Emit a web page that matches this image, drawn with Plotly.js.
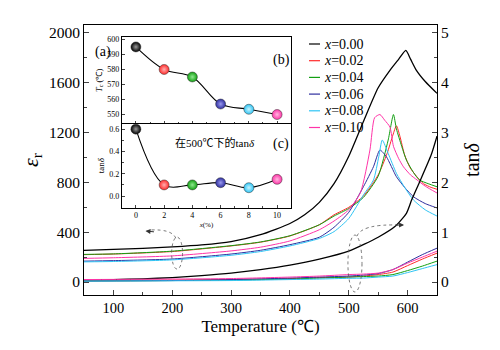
<!DOCTYPE html>
<html>
<head>
<meta charset="utf-8">
<script src="https://cdn.plot.ly/plotly-3.0.1.min.js"></script>
<style>html,body{margin:0;padding:0;background:#fff;}#chart{width:500px;height:350px;}</style>
</head>
<body>
<div id="chart"></div>
<script>
// ---- data ----
var seriesNames = ['<i>x</i>=0.00','<i>x</i>=0.02','<i>x</i>=0.04','<i>x</i>=0.06','<i>x</i>=0.08','<i>x</i>=0.10'];
var seriesColors = ['#000000','#ff2a2a','#12a012','#2e2e9e','#2ec4f4','#ff34a8'];

// permittivity (left axis)
var T0e = [50,100,150,200,250,300,350,400,425,450,475,500,525,550,570,585,597,605,615,630,650];
var e0  = [255,262,270,282,298,325,380,470,540,640,790,1010,1290,1560,1700,1790,1860,1790,1700,1610,1515];
var T1e = [50,100,200,300,350,400,450,475,500,525,550,565,575,581,587,595,604,615,627,640,650];
var e1  = [220,225,245,290,320,370,460,540,600,690,860,1030,1180,1255,1170,1020,920,850,790,760,745];
var T2e = [50,100,200,300,350,400,450,475,500,525,550,567,576,581,590,598,610,620,635,650];
var e2  = [222,226,248,292,322,372,460,530,590,680,850,1140,1345,1230,1090,980,880,820,790,765];
var T3e = [50,100,200,300,350,400,450,475,500,525,542,553,564,581,595,610,630,650];
var e3  = [168,172,185,225,255,300,360,440,560,766,926,1060,1006,846,760,685,630,595];
var T4e = [50,100,200,300,350,400,450,475,500,525,542,551,557,567,581,595,610,630,650];
var e4  = [162,165,178,215,245,290,350,405,510,700,819,1006,1140,1033,873,760,659,580,530];
var T5e = [50,100,200,300,350,400,450,475,500,520,536,544,553,561,570,576,585,593,605,616,630,650];
var e5  = [190,195,210,250,280,330,420,490,580,720,1060,1320,1345,1300,1245,1090,990,925,860,820,770,715];

// loss tangent (right axis)
var T0d = [50,100,150,200,250,300,350,400,450,500,550,580,598,607,620,640,650];
var d0  = [0.04,0.05,0.065,0.09,0.13,0.18,0.25,0.34,0.46,0.62,0.9,1.13,1.38,1.65,2.0,2.55,2.93];
var Tcd = [50,200,300,400,450,500,525,550,575,600,625,650];
var d1  = [0.03,0.04,0.05,0.07,0.09,0.10,0.12,0.15,0.20,0.33,0.46,0.58];
var d2  = [0.02,0.03,0.04,0.06,0.08,0.10,0.11,0.12,0.15,0.23,0.32,0.42];
var d3  = [0.02,0.03,0.05,0.08,0.10,0.12,0.14,0.17,0.25,0.40,0.55,0.68];
var d4  = [0.02,0.025,0.03,0.05,0.06,0.075,0.08,0.10,0.12,0.19,0.27,0.35];
var d5  = [0.05,0.06,0.07,0.10,0.12,0.15,0.16,0.18,0.25,0.38,0.50,0.62];

// insets
var xPct   = [0,2,4,6,8,10];
var TcVals = [595,580,575,557,553.5,550];
var tan500 = [0.6,0.1,0.1,0.12,0.075,0.15];
var sphereLight = ['#9a9a9a','#ffb0b0','#90e890','#9a9af0','#c8f4ff','#ffb8e0'];

var font = 'Liberation Serif';
var TeArr = [T0e,T1e,T2e,T3e,T4e,T5e];
var eArr = [e0,e1,e2,e3,e4,e5];
var TdArr = [T0d,Tcd,Tcd,Tcd,Tcd,Tcd];
var dArr = [d0,d1,d2,d3,d4,d5];

var traces = [];
for (var i=0;i<6;i++){
  traces.push({x:TeArr[i], y:eArr[i], type:'scatter', mode:'lines', name:seriesNames[i], showlegend:false,
    line:{color:seriesColors[i], width:i===0?1.3:1, shape:'spline', smoothing:0.6}, xaxis:'x', yaxis:'y'});
}
for (var j=0;j<6;j++){
  traces.push({x:TdArr[j], y:dArr[j], type:'scatter', mode:'lines', showlegend:false,
    line:{color:seriesColors[j], width:j===0?1.3:1, shape:'spline', smoothing:0.6}, xaxis:'x', yaxis:'y2'});
}
traces.push({x:xPct, y:TcVals, type:'scatter', mode:'lines+markers', showlegend:false, xaxis:'x3', yaxis:'y3',
  line:{color:'#000', width:1.1, shape:'spline'},
  marker:{size:10, color:seriesColors, gradient:{type:'radial', color:sphereLight}, line:{width:0.5,color:'#333'}}});
traces.push({x:xPct, y:tan500, type:'scatter', mode:'lines+markers', showlegend:false, xaxis:'x4', yaxis:'y4',
  line:{color:'#000', width:1.1, shape:'spline'},
  marker:{size:10, color:seriesColors, gradient:{type:'radial', color:sphereLight}, line:{width:0.5,color:'#333'}}});

var insetAxis = {showline:true, mirror:true, linecolor:'#000', linewidth:1, ticks:'inside', ticklen:3,
  tickfont:{family:font, size:8, color:'#000'}, showgrid:false, zeroline:false};

var PL=84, PW=353, PB=295, PH=270;
function px(xp){return (xp-PL)/PW;}
function py(yp){return (PB-yp)/PH;}

var shapes = [
  {type:'circle', xref:'x', yref:'y', x0:199, x1:217.5, y0:104, y1:361, line:{color:'#555', width:0.8, dash:'dot'}},
  {type:'circle', xref:'x', yref:'y', x0:498.6, x1:522.5, y0:-80, y1:377, line:{color:'#555', width:0.8, dash:'dot'}},
  {type:'path', xref:'x', yref:'y', path:'M 206,353 Q 199,426 163,418', line:{color:'#555', width:0.8, dash:'dot'}},
  {type:'path', xref:'x', yref:'y', path:'M 514,369 Q 522,466 584,458', line:{color:'#555', width:0.8, dash:'dot'}}
];
var annotations = [
  {x:154.5, y:410, xref:'x', yref:'y', text:'', showarrow:true, ax:10, ay:1, arrowhead:2, arrowsize:1, arrowwidth:1, arrowcolor:'#333'},
  {x:594, y:458, xref:'x', yref:'y', text:'', showarrow:true, ax:-10, ay:0, arrowhead:2, arrowsize:1, arrowwidth:1, arrowcolor:'#333'},
  {x:px(93), y:py(42), xref:'paper', yref:'paper', text:'(a)', showarrow:false, font:{family:font, size:14}},
  {x:px(281), y:py(50), xref:'paper', yref:'paper', text:'(b)', showarrow:false, font:{family:font, size:14}},
  {x:px(281), y:py(144), xref:'paper', yref:'paper', text:'(c)', showarrow:false, font:{family:font, size:14}},
  {x:px(215), y:py(142), xref:'paper', yref:'paper', text:'在500℃下的tan<i>δ</i>', showarrow:false,
    font:{family:'Liberation Serif, Noto Sans CJK SC', size:11}}
];
for (var k=0;k<6;k++){
  var yy = 44 + k*16.7;
  shapes.push({type:'line', xref:'paper', yref:'paper', x0:px(309), x1:px(320), y0:py(yy), y1:py(yy),
    line:{color:seriesColors[k], width:1.2}});
  annotations.push({x:px(322), y:py(yy), xref:'paper', yref:'paper', xanchor:'left', yanchor:'middle',
    text:seriesNames[k], showarrow:false, font:{family:font, size:14, color:'#000'}});
}

var layout = {
  width:500, height:350,
  margin:{l:84, r:63, t:25, b:55},
  paper_bgcolor:'#fff', plot_bgcolor:'#fff',
  font:{family:font, color:'#000'},
  showlegend:false,
  xaxis:{domain:[0,1], range:[50,650], dtick:100, tick0:0, ticks:'inside', ticklen:5,
    minor:{dtick:50, ticks:'inside', ticklen:3}, showline:true, mirror:true, linecolor:'#000', linewidth:1,
    showgrid:false, zeroline:false, tickfont:{family:font, size:14.5},
    title:{text:'Temperature (℃)', font:{family:font, size:17}, standoff:4}},
  yaxis:{range:[-104,2064], dtick:400, tick0:0, ticks:'inside', ticklen:5,
    minor:{dtick:200, ticks:'inside', ticklen:3}, showline:true, linecolor:'#000', linewidth:1,
    showgrid:false, zeroline:false, tickfont:{family:font, size:15.5},
    title:{text:'<i>ε</i><sub>r</sub>', font:{family:font, size:22}, standoff:4}},
  yaxis2:{overlaying:'y', side:'right', range:[-0.26,5.16], dtick:1, tick0:0, ticks:'inside', ticklen:5,
    minor:{dtick:0.5, ticks:'inside', ticklen:3}, showline:true, linecolor:'#000', linewidth:1,
    showgrid:false, zeroline:false, tickfont:{family:font, size:15.5},
    title:{text:'tan<i>δ</i>', font:{family:font, size:20}, standoff:16}},
  xaxis3:Object.assign({}, insetAxis, {domain:[0.107,0.587], anchor:'y3', range:[-1,11], dtick:2, tick0:0,
    showticklabels:false, minor:{dtick:1, ticks:'inside', ticklen:2}}),
  yaxis3:Object.assign({}, insetAxis, {domain:[0.635,0.955], anchor:'x3', range:[544,601.5], dtick:10, tick0:550,
    title:{text:'<i>T</i><sub>c</sub> (℃)', font:{family:font, size:8.5}, standoff:3}}),
  xaxis4:Object.assign({}, insetAxis, {domain:[0.107,0.587], anchor:'y4', range:[-1,11], dtick:2, tick0:0,
    minor:{dtick:1, ticks:'inside', ticklen:2},
    title:{text:'<i>x</i>(%)', font:{family:font, size:7}, standoff:2}}),
  yaxis4:Object.assign({}, insetAxis, {domain:[0.323,0.635], anchor:'x4', range:[-0.105,0.65], dtick:0.2, tick0:0,
    tickformat:'.1f', minor:{dtick:0.1, ticks:'inside', ticklen:2},
    title:{text:'tan<i>δ</i>', font:{family:font, size:9}, standoff:3}}),
  shapes:shapes,
  annotations:annotations
};

Plotly.newPlot('chart', traces, layout, {displayModeBar:false, staticPlot:true});
</script>
</body>
</html>
